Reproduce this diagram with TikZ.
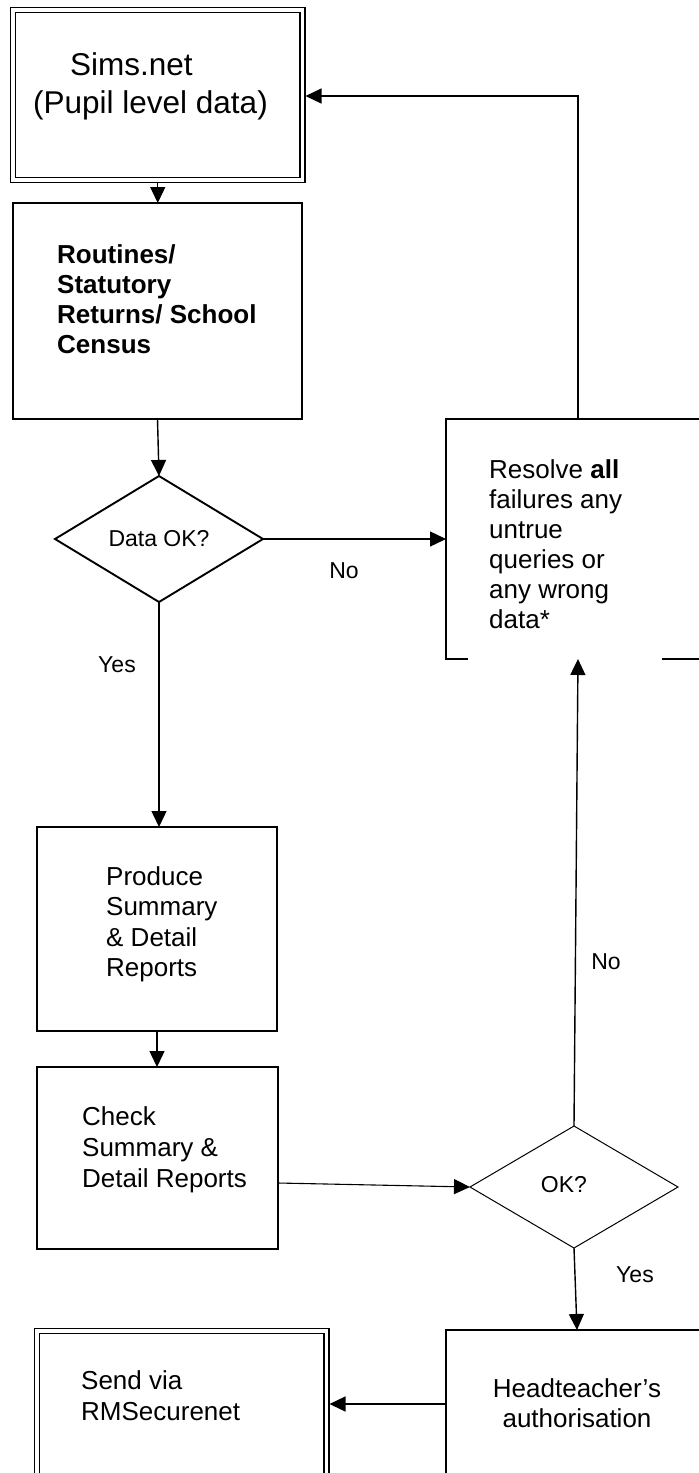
\documentclass[tikz,border=0pt]{standalone}
\usepackage{fontspec}
\setmainfont{Liberation Sans}
\usetikzlibrary{arrows.meta,shapes.geometric}
\tikzset{
  box/.style={rectangle,draw,line width=1.5pt,inner sep=0pt,outer sep=0pt},
  dbox/.style={rectangle,draw,line width=1.7pt,double,double distance=3.4pt,inner sep=0pt,outer sep=0pt},
  dec/.style={diamond,draw,inner sep=0pt,outer sep=0pt,font=\fontsize{23}{27}\selectfont},
  txt/.style={inner sep=0pt,anchor=base west},
  lbl/.style={inner sep=0pt,font=\fontsize{23}{27}\selectfont},
  arr/.style={line width=1.4pt,-{Triangle[length=16pt,width=15pt]}},
  ln/.style={line width=1.4pt}
}
\begin{document}
\begin{tikzpicture}[x=1pt,y=-1pt]
\useasboundingbox (0,0) rectangle (699,1473);
\clip (0,0) rectangle (699,1473);
\fill[white] (0,0) rectangle (699,1473);
% boxes
\node[dbox,minimum width=289.5pt,minimum height=170pt] (sims) at (157.75,95) {};
\node[box,minimum width=289pt,minimum height=216pt] (rout) at (157.5,311) {};
\node[dec,line width=1.9pt,minimum width=208pt,minimum height=126pt] (dec1) at (159,539) {Data OK?};
\node[rectangle,inner sep=0pt,outer sep=0pt,minimum width=274pt,minimum height=240pt] (res) at (583,539) {};
\draw[line width=1.1pt] ([xshift=22pt]res.south west) -- (res.south west) -- (res.north west) -- (res.north east);
\draw[line width=1.1pt] ([xshift=216pt]res.south west) -- (res.south east);
\node[box,minimum width=240pt,minimum height=204pt] (prod) at (157,929) {};
\node[box,minimum width=241pt,minimum height=182pt] (chk) at (157.5,1158) {};
\node[dec,line width=1pt,minimum width=208pt,minimum height=122pt] (dec2) at (574,1187) {\raisebox{6pt}{OK?}\hspace*{20pt}};
\node[box,line width=1.2pt,minimum width=274pt,minimum height=190pt] (head) at (583,1425) {};
\node[dbox,minimum width=289.5pt,minimum height=189pt] (send) at (181.75,1425.5) {};
% texts
\node[txt] (tsims) at (33,75) {\parbox[t]{270pt}{\fontsize{31.5}{38}\selectfont\hspace*{37pt}Sims.net\\(Pupil level data)}};
\node[txt] (trout) at (57,263) {\parbox[t]{240pt}{\fontsize{26}{30}\selectfont\bfseries Routines/\\Statutory\\Returns/ School\\Census}};
\node[txt] (tres) at (489,478) {\parbox[t]{200pt}{\fontsize{26}{30}\selectfont Resolve \textbf{all}\\failures any\\untrue\\queries or\\any wrong\\data*}};
\node[txt] (tprod) at (106,885) {\parbox[t]{170pt}{\fontsize{26}{30.5}\selectfont Produce\\Summary\\\& Detail\\Reports}};
\node[txt] (tchk) at (82,1125) {\parbox[t]{190pt}{\fontsize{26}{31}\selectfont Check\\Summary \&\\Detail Reports}};
\node[txt] (tsend) at (81,1389) {\parbox[t]{220pt}{\fontsize{26}{31}\selectfont Send via\\RMSecurenet}};
\node[inner sep=0pt,anchor=base] (thead) at (577,1397) {\parbox[t]{230pt}{\centering\fontsize{26}{30}\selectfont Headteacher’s\\authorisation}};
% labels
\node[lbl] (yes1) at (117,665) {Yes};
\node[lbl] (no1) at (344,571) {No};
\node[lbl] (no2) at (606,962) {No};
\node[lbl] (yes2) at (635,1275) {Yes};
% connectors (yshift is in page direction: positive = up)
\draw[arr] ([yshift=-3pt]sims.south) -- (sims.south |- rout.north);
\draw[arr] (rout.south) -- (dec1.north);
\draw[arr] (dec1.east) -- (res.west);
\draw[arr,line width=1.2pt] ([xshift=-5pt]res.north) |- ([xshift=3pt,yshift=-1pt]sims.east);
\draw[arr] (dec1.south) -- (dec1.south |- prod.north);
\draw[arr] (prod.south) -- (prod.south |- chk.north);
\draw[arr,line width=1.1pt] ([yshift=-25pt]chk.east) -- (dec2.west);
\draw[arr] (dec2.north) -- ([xshift=-5pt]res.south);
\draw[arr] (dec2.south) -- ([xshift=-6pt]head.north);
\draw[arr] ([yshift=21pt]head.west) -- ([xshift=3pt,yshift=21pt]head.west -| send.east);
\end{tikzpicture}
\end{document}
